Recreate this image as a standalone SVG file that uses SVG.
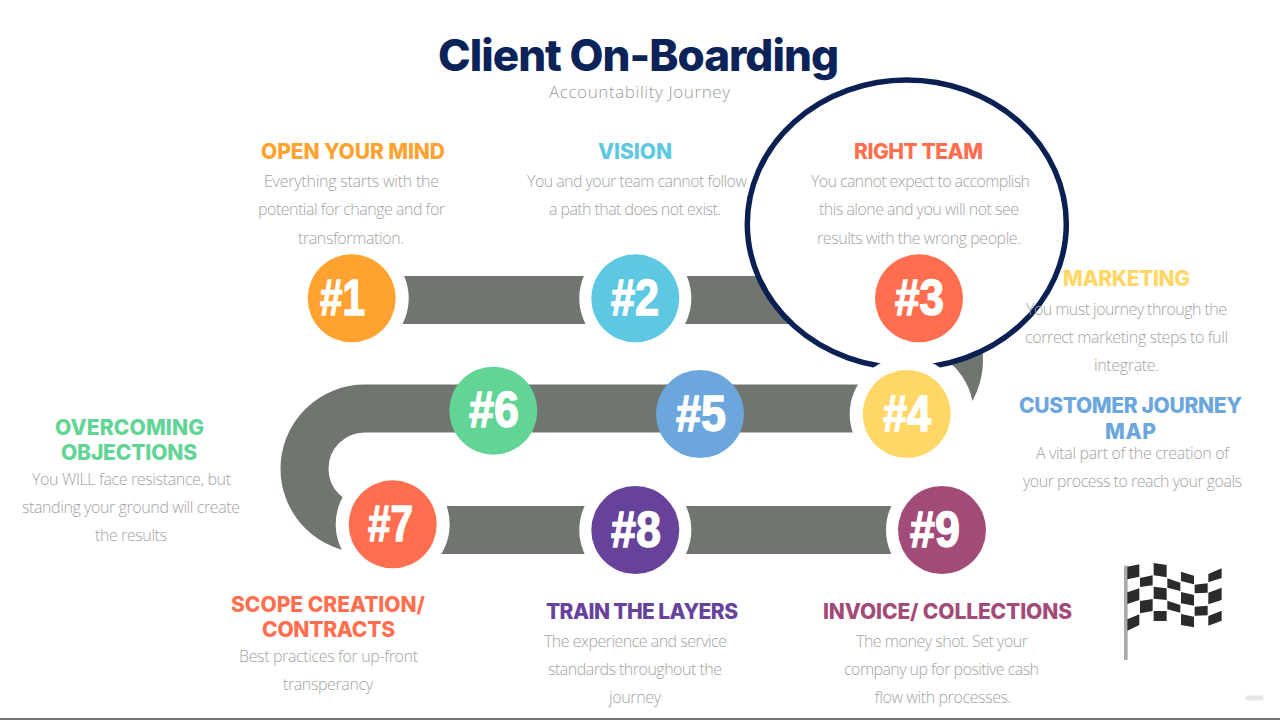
<svg xmlns="http://www.w3.org/2000/svg" width="1280" height="720" viewBox="0 0 1280 720">
<style>
.h{font-family:"Inter","Open Sans","Liberation Sans",sans-serif;font-weight:800;font-size:21px}
.b{font-family:"Open Sans","Liberation Sans",sans-serif;font-weight:300;font-size:16px;fill:#a3a3a3}
.n{font-family:"Liberation Sans","Arimo",sans-serif;font-weight:700;font-size:50px;fill:#fff;stroke:#fff;stroke-width:1.4px}
.w{fill:#fff}
.band{fill:none;stroke:#70766f;stroke-width:48}
.d{fill:#2b2b2b}
</style>
<rect width="1280" height="720" fill="#fff"/>
<g id="title">
<text x="438" y="71" textLength="401" style="font-family:Inter,'Open Sans',sans-serif;font-weight:800;font-size:44px;fill:#0b2358">Client On-Boarding</text>
<text x="549" y="98" textLength="181" style="font-family:'Open Sans',sans-serif;font-weight:300;font-size:17px;fill:#9a9a9a">Accountability Journey</text>
</g>
<g id="connectors">
<path class="band" d="M400 300H899A60 60 0 0 1 899 420"/>
<circle class="w" cx="906.700" cy="414" r="67"/>
<path class="band" d="M910 408.500H364.700A60.200 60.200 0 0 0 364.700 528.900"/>
<path class="band" d="M400 530H942"/>
</g>
<ellipse id="spotlight" cx="906.800" cy="224" rx="159.500" ry="144" fill="#fff" stroke="#0a2052" stroke-width="5.500"/>
<g id="node1"><circle class="w" cx="351.700" cy="298.300" r="57"/><circle cx="351.700" cy="298.300" r="44" fill="#ffa230"/><text class="n" x="320" y="315" textLength="45" lengthAdjust="spacingAndGlyphs">#1</text>
<text class="h" x="261" y="159" textLength="184" fill="#ffa230">OPEN YOUR MIND</text>
<text class="b" x="264" y="187" textLength="175">Everything starts with the</text><text class="b" x="258" y="215" textLength="187">potential for change and for</text><text class="b" x="298" y="244" textLength="106">transformation.</text></g>
<g id="node2"><circle class="w" cx="635.300" cy="298.300" r="56"/><circle cx="635.300" cy="298.300" r="44" fill="#5ec8e2"/><text class="n" x="611" y="315" textLength="48" lengthAdjust="spacingAndGlyphs">#2</text>
<text class="h" x="598" y="159" textLength="74" fill="#5ec8e2">VISION</text>
<text class="b" x="527" y="187" textLength="220">You and your team cannot follow</text><text class="b" x="549" y="215" textLength="172">a path that does not exist.</text></g>
<g id="node3"><circle cx="919" cy="298.300" r="44" fill="#ff6f4f"/><text class="n" x="895" y="315" textLength="49" lengthAdjust="spacingAndGlyphs">#3</text>
<text class="h" x="854" y="159" textLength="129" fill="#ff6f4f">RIGHT TEAM</text>
<text class="b" x="811" y="187" textLength="219">You cannot expect to accomplish</text><text class="b" x="819" y="215" textLength="200">this alone and you will not see</text><text class="b" x="817" y="244" textLength="204">results with the wrong people.</text></g>
<g id="node4"><circle class="w" cx="906.700" cy="414" r="57"/><circle cx="906.700" cy="414" r="44" fill="#ffd766"/><text class="n" x="883" y="431" textLength="48" lengthAdjust="spacingAndGlyphs">#4</text>
<text class="h" x="1063" y="286" textLength="127" fill="#ffd766">MARKETING</text>
<text class="b" x="1026" y="315" textLength="201">You must journey through the</text><text class="b" x="1025" y="343" textLength="203">correct marketing steps to full</text><text class="b" x="1094" y="371" textLength="65">integrate.</text></g>
<g id="node5"><circle cx="700" cy="414" r="44" fill="#6ba6dd"/><text class="n" x="676" y="431" textLength="50" lengthAdjust="spacingAndGlyphs">#5</text>
<text class="h" x="1019" y="413" textLength="223" fill="#6ba6dd">CUSTOMER JOURNEY</text><text class="h" x="1105" y="439" textLength="51" fill="#6ba6dd">MAP</text>
<text class="b" x="1036" y="459" textLength="193">A vital part of the creation of</text><text class="b" x="1023" y="487" textLength="219">your process to reach your goals</text></g>
<g id="node6"><circle cx="493.300" cy="410.700" r="44" fill="#62d596"/><text class="n" x="469" y="427" textLength="50" lengthAdjust="spacingAndGlyphs">#6</text>
<text class="h" x="55" y="435" textLength="149" fill="#62d596">OVERCOMING</text><text class="h" x="61" y="460" textLength="136" fill="#62d596">OBJECTIONS</text>
<text class="b" x="32" y="485" textLength="199">You WILL face resistance, but</text><text class="b" x="22" y="513" textLength="218">standing your ground will create</text><text class="b" x="95" y="541" textLength="72">the results</text></g>
<g id="node7"><circle class="w" cx="392.700" cy="524.300" r="57"/><circle cx="392.700" cy="524.300" r="44" fill="#ff6f4f"/><text class="n" x="368" y="541" textLength="45" lengthAdjust="spacingAndGlyphs">#7</text>
<text class="h" x="231" y="612" textLength="194" fill="#ff6f4f">SCOPE CREATION/</text><text class="h" x="262" y="637" textLength="133" fill="#ff6f4f">CONTRACTS</text>
<text class="b" x="239" y="662" textLength="179">Best practices for up-front</text><text class="b" x="283" y="690" textLength="90">transperancy</text></g>
<g id="node8"><circle class="w" cx="635.300" cy="530" r="56"/><circle cx="635.300" cy="530" r="44" fill="#66429b"/><text class="n" x="611" y="547" textLength="50" lengthAdjust="spacingAndGlyphs">#8</text>
<text class="h" x="546" y="619" textLength="192" fill="#66429b">TRAIN THE LAYERS</text>
<text class="b" x="544" y="647" textLength="183">The experience and service</text><text class="b" x="548" y="675" textLength="174">standards throughout the</text><text class="b" x="609" y="703" textLength="52">journey</text></g>
<g id="node9"><circle class="w" cx="942" cy="530" r="56"/><circle cx="942" cy="530" r="44" fill="#a34b78"/><text class="n" x="910" y="547" textLength="50" lengthAdjust="spacingAndGlyphs">#9</text>
<text class="h" x="823" y="619" textLength="249" fill="#a34b78">INVOICE/ COLLECTIONS</text>
<text class="b" x="856" y="647" textLength="172">The money shot. Set your</text><text class="b" x="844" y="675" textLength="195">company up for positive cash</text><text class="b" x="874" y="703" textLength="137">flow with processes.</text></g>
<g id="flag" transform="translate(1100 550) scale(.3333)">
<rect x="72" y="47" width="11" height="283" fill="#aaa"/>
<path class="d" d="M82 50L118 43V80L82 88ZM82 127L118 115V150L82 162ZM82 208L118 193V225L82 242ZM120 84L158 76V106L120 111ZM120 153L158 147V183L120 190ZM161 39L200 45V82L161 76ZM161 110L200 115V150L161 146ZM161 183H200V213H161ZM202 85L241 98V123L202 113ZM202 152L241 165V188L202 178ZM243 65L282 77V103L243 93ZM243 126L282 135V167L243 160ZM243 192L282 200V232L243 225ZM284 104L323 100V128L284 130ZM284 170L323 167V196L284 197ZM325 72L365 55V84L325 97ZM325 128L365 113V150L325 163ZM325 198L365 182V212L325 227Z"/>
</g>
<rect x="1245.500" y="695.500" width="18" height="5" rx="2" fill="#e6e6e6"/>
<rect x="0" y="718" width="1280" height="2" fill="#777"/>
</svg>
